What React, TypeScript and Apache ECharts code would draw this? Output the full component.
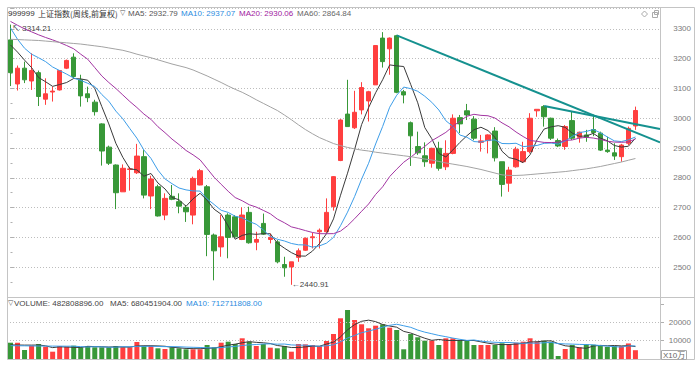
import React, { useEffect, useRef } from 'react';
import * as echarts from 'echarts';

const opens = [3263,3115,3168,3125,3153,3064,3088,3095,3168,3205,
 3129,3082,3054,2981,2903,2843,2753,2828,2817,2871,
 2739,2770,2675,2738,2720,2701,2675,2776,2770,2608,
 2568,2675,2669,2593,2684,2584,2647,2593,2585,2509,
 2501,2533,2557,2599,2619,2619,2703,2858,3014,2968,
 3028,3058,3112,3269,3233,3277,3089,2985,2905,2874,
 2849,2899,2837,2882,3002,3025,2997,2919,2925,2957,
 2854,2782,2837,2854,2888,3025,3039,3000,2925,2905,
 2992,2936,2944,2962,2950,2893,2884,2871,2916,2974];

const closes = [3153,3168,3129,3160,3073,3082,3091,3160,3194,3140,
 3075,3069,3022,2890,2849,2750,2832,2830,2873,2742,
 2796,2672,2731,2728,2705,2686,2798,2824,2610,2555,
 2602,2600,2602,2675,2582,2593,2611,2600,2518,2498,
 2518,2555,2597,2602,2624,2684,2804,2994,2972,3020,
 3103,3089,3244,3190,3269,3087,3078,2941,2884,2854,
 2899,2832,2882,3000,2981,3011,2933,2924,2944,2867,
 2778,2826,2896,2888,3000,3030,3005,2933,2907,2972,
 2933,2953,2936,2952,2893,2888,2873,2910,2966,3026];

const lows = [3108,3093,3118,3095,3041,3045,3056,3093,3165,3134,
 3039,3054,3009,2841,2843,2695,2753,2757,2813,2731,
 2695,2670,2658,2725,2681,2652,2644,2775,2537,2456,
 2535,2530,2600,2591,2579,2557,2608,2580,2513,2468,
 2440.91,2518,2555,2563,2563,2616,2690,2856,2972,2964,
 3013,2989,3112,3170,3146,3084,3050,2840,2877,2837,
 2834,2824,2826,2879,2950,2994,2926,2888,2882,2855,
 2737,2753,2834,2850,2882,3005,2972,2927,2903,2894,
 2927,2918,2921,2940,2890,2884,2860,2854,2910,2961];

const highs = [3314.21,3177,3190,3218,3160,3134,3106,3162,3197,3218,
 3146,3106,3062,2983,2908,2845,2845,2837,2914,2893,
 2807,2777,2748,2776,2748,2709,2804,2830,2776,2613,
 2675,2681,2675,2701,2703,2619,2680,2613,2591,2535,
 2518,2563,2600,2616,2630,2731,2806,2997,3129,3092,
 3121,3092,3244,3289,3271,3280,3095,2989,2955,2919,
 2901,2921,2926,3013,3011,3048,3007,2944,2946,2970,
 2854,2837,2904,2921,3017,3030,3044,3002,2932,2977,
 3022,2955,2961,3012,2955,2938,2916,2914,2972,3039];

const ma5 = [3246,3222,3195,3170,3136.6,3122.4,3107,3113.2,3120,3133.4,
 3132,3127.6,3100,3039.2,2981,2916,2868.6,2830.2,2826.8,2805.4,
 2814.6,2782.6,2762.8,2733.8,2726.4,2704.4,2729.6,2748.2,2724.6,2694.6,
 2677.8,2638.2,2593.8,2606.8,2612.2,2610.4,2612.6,2612.2,2580.8,2564,
 2549,2537.8,2537.2,2554,2579.2,2612.4,2662.2,2741.6,2815.6,2894.8,
 2978.6,3035.6,3085.6,3129.2,3179,3175.8,3173.6,3113,3051.8,2968.8,
 2931.2,2882,2870.2,2893.4,2918.8,2941.2,2961.4,2969.8,2958.6,2935.8,
 2889.2,2867.8,2862.2,2851,2877.6,2928,2963.8,2971.2,2975,2969.4,
 2950,2939.6,2940.2,2949.2,2933.4,2924.4,2908.4,2903.2,2906,2932.79];

const ma10 = [3303,3265,3235,3215,3203,3190,3172,3160,3148,3135,
 3127.2,3117.3,3106.6,3079.6,3057.2,3024,2998.1,2965.1,2933,2893.2,
 2865.3,2825.6,2796.5,2780.3,2765.9,2759.5,2756.1,2755.5,2729.2,2710.5,
 2691.1,2683.9,2671,2665.7,2653.4,2644.1,2625.4,2603,2593.8,2588.1,
 2579.7,2575.2,2574.7,2567.4,2571.6,2580.7,2600,2639.4,2684.8,2737,
 2795.5,2848.9,2913.6,2972.4,3036.9,3077.2,3104.6,3099.3,3090.5,3073.9,
 3053.5,3027.8,2991.6,2972.6,2943.8,2936.2,2921.7,2920,2926,2927.3,
 2915.2,2914.6,2916,2904.8,2906.7,2908.6,2915.8,2916.7,2913,2923.5,
 2939,2951.7,2955.7,2962.1,2951.4,2937.2,2924,2921.7,2927.6,2937.07];

const ma20 = [3325,3312,3300,3290,3280,3271,3263,3254,3244,3233,
 3215,3198,3170,3142,3120,3100,3078,3056,3036,3014.1,
 2996.3,2971.5,2951.6,2930,2911.6,2891.8,2877.1,2860.3,2831.1,2801.9,
 2778.2,2754.8,2733.8,2723,2709.7,2701.8,2690.8,2679.3,2661.5,2649.3,
 2635.4,2629.6,2622.9,2616.6,2612.5,2612.4,2612.7,2621.2,2639.3,2662.6,
 2687.6,2712.1,2744.2,2769.9,2804.3,2829,2852.3,2869.4,2887.7,2905.5,
 2924.5,2938.4,2952.6,2972.5,2990.4,3006.7,3013.2,3009.7,3008.3,3000.6,
 2984.4,2971.2,2953.8,2938.7,2925.3,2922.4,2918.8,2918.4,2919.5,2925.4,
 2927.1,2933.2,2935.9,2933.5,2929.1,2922.9,2919.9,2919.2,2920.3,2930.06];

const ma60 = [3265,3264,3263,3262,3261,3259,3257,3255,3253,3251,
 3249,3246,3243,3240,3236,3232,3228,3222,3215,3209,
 3203,3196,3189,3182,3176,3170,3162,3152,3142,3131,
 3120,3108,3097,3087,3075,3062,3050,3038,3026,3011,
 2995,2978,2962,2948,2935,2925,2915,2908,2902,2897,
 2893,2890,2886,2883,2880,2877,2874,2871,2867,2863,
 2860,2855,2850,2846,2842,2838,2833,2828,2822,2816,
 2810,2808,2808,2809,2811,2813,2815,2817,2819,2821,
 2824,2827,2830,2834,2838,2843,2848,2853,2859,2864.84];

// volume in units of 10万 (x100,000)
const volumes = [8900,8900,4940,7280,8200,6730,4020,7110,6730,7280,
 6400,7110,6400,6400,6400,7110,6400,6400,9290,7110,
 7110,5860,5480,6400,5860,5300,5300,5300,7660,6400,
 8900,9450,8200,11290,9450,7110,8200,6200,5860,7110,
 4020,8200,8000,7660,7110,9830,13630,22150,26660,21230,
 18900,16720,18140,18900,17050,15800,5320,13630,11840,10000,
 10180,7660,11290,11290,10370,9830,7660,7660,7660,7660,
 8580,8000,8900,9450,11290,9450,10000,9450,1690,5480,
 7660,6400,8100,7800,7280,6600,7100,7000,8500,4828.09];

const volMa5 = [7700,7650,7600,7600,7644,7210,6234,6668,6558,6374,
 6308,6926,6784,6718,6542,6684,6542,6542,7120,7262,
 7262,7154,6970,6392,6142,5780,5668,5632,5884,5992,
 6712,7542,8122,8848,9458,9100,8850,8450,7364,6896,
 6278,6278,6638,6998,6998,8160,9246,12076,15876,18700,
 20514,21132,20330,18778,17942,17322,15042,14140,12728,11318,
 10194,10662,10194,10084,10158,10088,10088,9362,8636,8094,
 7844,7912,8160,8518,9244,9418,9818,9928,8376,7214,
 6856,6136,5866,7088,7448,7236,7376,7156,7296,6804.52];

const volMa10 = [7300,7250,7200,7150,7100,7080,7050,7030,7010,7009,
 6759,6580,6726,6638,6458,6496,6734,6663,6919,6902,
 6973,6848,6756,6756,6702,6521,6411,6301,6138,6067,
 6246,6605,6877,7366,7725,7906,8196,8286,8106,8177,
 7689,7564,7544,7181,6947,7219,7762,9357,11437,12849,
 14337,15189,16203,17327,18321,18918,18087,17235,15753,14630,
 13758,12852,12167,11406,10738,10141,10375,9778,9360,9126,
 8966,9000,8761,8577,8669,8631,8865,9044,8447,8229,
 8137,7977,7897,7732,7331,7046,6756,6511,7192,7127.12];

// trend lines: [category position, price]
const trendLine1 = [[55, 3278], [92.5, 2919]];
const trendLine2 = [[76, 3041], [92.5, 2964]];

const priceTicks = [2500, 2600, 2700, 2800, 2900, 3000, 3100, 3200, 3300];
const volumeTicks = [10000, 20000];

const EMPTY_SLOTS = 3;
const weeks = [...opens.map((_, i) => 'W' + (i + 1)), ...Array(EMPTY_SLOTS).fill('')];

const RED = '#ff3f3f';
const GREEN = '#389838';
const FONT = "'Liberation Sans', Arial, 'Noto Sans CJK SC', sans-serif";
const CJK = "'Noto Sans CJK SC', 'Liberation Sans', sans-serif";
const FRAME = '#c4c4c4';

function txt(text: string, x: number, y: number, fill: string, size = 8, family = FONT) {
  return {
    type: 'text', x, y, z: 60, silent: true,
    style: { text, fill, fontSize: size, fontFamily: family, align: 'left', verticalAlign: 'middle' },
  };
}

export default function App() {
  const ref = useRef<HTMLDivElement>(null);
  useEffect(() => {
    const chart = echarts.init(ref.current!, null, { renderer: 'svg' });
    const candles = opens.map((o, i) => [o, closes[i], lows[i], highs[i]]);
    const volData = volumes.map((v, i) => ({
      value: v,
      itemStyle: { color: closes[i] >= opens[i] ? RED : GREEN },
    }));
    const axisCommonX = {
      type: 'category', data: weeks, boundaryGap: true,
      axisLine: { show: false }, axisTick: { show: false }, axisLabel: { show: false }, splitLine: { show: false },
    };
    const lineS = (data: number[], color: string, xi: number, yi: number) => ({
      type: 'line', data, xAxisIndex: xi, yAxisIndex: yi, symbol: 'none', smooth: false,
      lineStyle: { width: 1, color }, itemStyle: { color }, z: 5, silent: true,
    });
    const option: any = {
      animation: false,
      backgroundColor: '#ffffff',
      grid: [
        { left: 7, right: 39, top: 8, height: 289, outerBoundsMode: 'none', containLabel: false },
        { left: 7, right: 39, top: 297, height: 62.1, outerBoundsMode: 'none', containLabel: false },
      ],
      xAxis: [
        { ...axisCommonX, gridIndex: 0 },
        { ...axisCommonX, gridIndex: 1 },
        { type: 'value', gridIndex: 0, min: -0.5, max: weeks.length - 0.5, show: false },
      ],
      yAxis: [
        {
          type: 'value', gridIndex: 0, position: 'right', min: 2400, max: 3370, interval: 100, scale: true,
          axisLine: { show: false },
          axisTick: { show: true, length: 4, inside: false, lineStyle: { color: '#b0b0b0' } },
          minorTick: { show: true, splitNumber: 2, length: 2, lineStyle: { color: '#b0b0b0' } },
          axisLabel: {
            showMinLabel: false, showMaxLabel: false, align: 'right', margin: 31,
            color: '#7a7a7a', fontSize: 8, fontFamily: FONT,
            formatter: (v: number) => (priceTicks.indexOf(v) >= 0 ? String(v) : ''),
          },
          splitLine: { show: true, lineStyle: { type: [1, 2], color: '#bdbdbd', width: 1 } },
          minorSplitLine: { show: false },
        },
        {
          type: 'value', gridIndex: 1, position: 'right', min: 0, max: 33700, interval: 10000,
          axisLine: { show: false },
          axisTick: { show: true, length: 4, inside: false, lineStyle: { color: '#b0b0b0' } },
          axisLabel: {
            align: 'right', margin: 31, color: '#7a7a7a', fontSize: 8, fontFamily: FONT,
            showMinLabel: false, showMaxLabel: false,
            formatter: (v: number) => (volumeTicks.indexOf(v) >= 0 ? String(v) : ''),
          },
          splitLine: { show: false },
        },
      ],
      series: [
        {
          type: 'candlestick', xAxisIndex: 0, yAxisIndex: 0, data: candles, barWidth: 5,
          itemStyle: { color: RED, color0: GREEN, borderColor: RED, borderColor0: GREEN, borderWidth: 1 },
          z: 3,
          markPoint: {
            silent: true,
            symbol: 'circle', symbolSize: 1,
            itemStyle: { color: 'rgba(0,0,0,0)' },
            data: [
              {
                coord: [0, 3314.21],
                label: { show: true, position: 'right', distance: 1, offset: [0, 3.5], formatter: '↖ 3314.21', color: '#444', fontSize: 8, fontFamily: FONT },
              },
              {
                coord: [40, 2440.91],
                label: { show: true, position: 'right', distance: 0, offset: [0, 0], formatter: '←2440.91', color: '#444', fontSize: 8, fontFamily: FONT },
              },
            ],
          },
        },
        lineS(ma5, '#3a3a3a', 0, 0),
        lineS(ma10, '#3d9de8', 0, 0),
        lineS(ma20, '#a235a2', 0, 0),
        lineS(ma60, '#a3a3a3', 0, 0),
        {
          type: 'line', xAxisIndex: 2, yAxisIndex: 0, data: trendLine1, symbol: 'none',
          lineStyle: { width: 2, color: '#15918f' }, z: 8, silent: true,
        },
        {
          type: 'line', xAxisIndex: 2, yAxisIndex: 0, data: trendLine2, symbol: 'none',
          lineStyle: { width: 2, color: '#15918f' }, z: 8, silent: true,
        },
        {
          type: 'bar', xAxisIndex: 1, yAxisIndex: 1, data: volData, barWidth: 5, z: 3,
          markLine: {
            silent: true, symbol: ['none', 'none'], label: { show: false },
            lineStyle: { type: [1, 2], color: '#bdbdbd', width: 1 },
            data: volumeTicks.map((v) => ({ yAxis: v })),
          },
        },
        lineS(volMa5, '#3a3a3a', 1, 1),
        lineS(volMa10, '#3d9de8', 1, 1),
      ],
      graphic: [
        { type: 'rect', z: 50, silent: true, shape: { x: 7.5, y: 7.5, width: 687, height: 352 }, style: { fill: 'none', stroke: FRAME, lineWidth: 1 } },
        { type: 'line', z: 50, silent: true, shape: { x1: 660.5, y1: 7.5, x2: 660.5, y2: 359.5 }, style: { stroke: FRAME, lineWidth: 1 } },
        { type: 'line', z: 50, silent: true, shape: { x1: 7.5, y1: 297.5, x2: 694.5, y2: 297.5 }, style: { stroke: FRAME, lineWidth: 1 } },
        txt('999999', 8, 13, '#333'),
        txt('上证指数(周线,前复权)', 38, 13, '#333', 8, CJK),
        txt('▽', 120, 13, '#555', 7, "'DejaVu Sans', sans-serif"),
        txt('MA5: 2932.79', 128, 13, '#555'),
        txt('MA10: 2937.07', 181, 13, '#2a8ce0'),
        txt('MA20: 2930.06', 239, 13, '#a020a0'),
        txt('MA60: 2864.84', 297, 13, '#666'),
        txt('▽', 8, 303, '#555', 7, "'DejaVu Sans', sans-serif"),
        txt('VOLUME: 482808896.00', 14, 303, '#444'),
        txt('MA5: 680451904.00', 110, 303, '#444'),
        txt('MA10: 712711808.00', 186, 303, '#2a8ce0'),
        { type: 'polygon', z: 60, silent: true, shape: { points: [[644.5, 11], [647.5, 14], [644.5, 17], [641.5, 14]] }, style: { fill: 'none', stroke: '#aaa', lineWidth: 1 } },
        { type: 'rect', z: 60, silent: true, shape: { x: 652.5, y: 12.5, width: 5, height: 5 }, style: { fill: 'none', stroke: '#aaa', lineWidth: 1 } },
        { type: 'rect', z: 60, silent: true, shape: { x: 654.5, y: 10.5, width: 4, height: 4 }, style: { fill: 'none', stroke: '#aaa', lineWidth: 1 } },
        { type: 'rect', z: 60, silent: true, shape: { x: 661.5, y: 350.5, width: 25, height: 9 }, style: { fill: '#fff', stroke: '#aaa', lineWidth: 1 } },
        { type: 'text', z: 61, silent: true, x: 663, y: 355, style: { text: 'X10万', fill: '#666', fontSize: 8, fontFamily: FONT, align: 'left', verticalAlign: 'middle' } },
      ],
    };
    chart.setOption(option);
    return () => chart.dispose();
  }, []);
  return <div ref={ref} style={{ position: 'fixed', left: 0, top: 0, width: 699, height: 366 }} />;
}
